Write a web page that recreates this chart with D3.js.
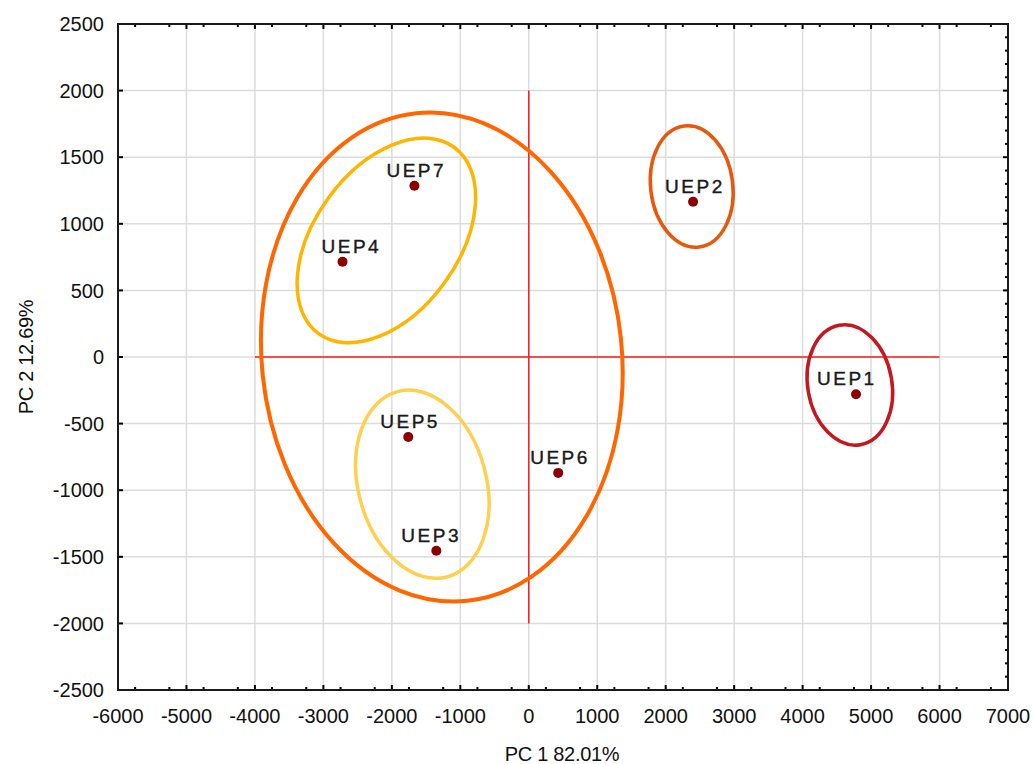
<!DOCTYPE html>
<html>
<head>
<meta charset="utf-8">
<script src="https://cdnjs.cloudflare.com/ajax/libs/d3/7.8.5/d3.min.js"></script>
<style>
body { margin: 0; background: #fff; }
svg { font-family: Arial, "Liberation Sans", sans-serif; }
</style>
</head>
<body>
<div id="chart"></div>
<script>
// sample scores
var names = ["UEP1", "UEP2", "UEP3", "UEP4", "UEP5", "UEP6", "UEP7"];
var pc1 = [4780, 2400, -1350, -2720, -1760, 430, -1670];
var pc2 = [-280, 1165, -1455, 715, -600, -870, 1285];

var xTicks = d3.range(-6000, 7001, 1000);
var yTicks = d3.range(-2500, 2501, 500);

// group ellipses (centre and radii in data units, tilt in degrees)
var groupX = [-1270, -2080, -1555, 2380, 4690];
var groupY = [0, 875, -955, 1280, -210];
var groupRx = [2630, 1050, 935, 600, 615];
var groupRy = [1840, 865, 720, 458, 455];
var groupTilt = [-6, 36, -15, -7, -10];
var groupColor = ["#ff6600", "#ffb400", "#ffcf50", "#e8580c", "#c41820"];
var groupWidth = [4, 3.5, 3.5, 3.5, 3.5];

var labelNudge = [-11, 0, -7, 7, 0, 0, 0];

var margin = { top: 24, right: 25, bottom: 74, left: 118 };
var width = 1033 - margin.left - margin.right;
var height = 764 - margin.top - margin.bottom;

var svg = d3.select("#chart")
  .append("svg")
  .attr("width", 1033)
  .attr("height", 764);

var g = svg.append("g")
  .attr("transform", "translate(" + margin.left + "," + margin.top + ")");

var x = d3.scaleLinear().domain([-6000, 7000]).range([0, width]);
var y = d3.scaleLinear().domain([-2500, 2500]).range([height, 0]);

// grid
g.append("g")
  .selectAll("line")
  .data(xTicks)
  .enter()
  .append("line")
  .attr("x1", d => x(d)).attr("x2", d => x(d))
  .attr("y1", 0).attr("y2", height)
  .attr("stroke", "#dcdcdc")
  .attr("stroke-width", 1.5);

g.append("g")
  .selectAll("line")
  .data(yTicks)
  .enter()
  .append("line")
  .attr("y1", d => y(d)).attr("y2", d => y(d))
  .attr("x1", 0).attr("x2", width)
  .attr("stroke", "#dcdcdc")
  .attr("stroke-width", 1.5);

// red cross through origin
g.append("line")
  .attr("x1", x(0)).attr("x2", x(0))
  .attr("y1", y(2000)).attr("y2", y(-2000))
  .attr("stroke", "#ff1a1a")
  .attr("stroke-width", 1.5);

g.append("line")
  .attr("x1", x(-4000)).attr("x2", x(6000))
  .attr("y1", y(0)).attr("y2", y(0))
  .attr("stroke", "#ff1a1a")
  .attr("stroke-width", 1.5);

// ellipses
var pxPerX = x(1) - x(0);
var pxPerY = y(0) - y(1);

g.append("g")
  .selectAll("ellipse")
  .data(groupX)
  .enter()
  .append("ellipse")
  .attr("cx", 0)
  .attr("cy", 0)
  .attr("rx", (d, i) => groupRx[i] * pxPerX)
  .attr("ry", (d, i) => groupRy[i] * pxPerY)
  .attr("transform", (d, i) => "translate(" + x(d) + "," + y(groupY[i]) + ") rotate(" + groupTilt[i] + ")")
  .attr("fill", "none")
  .attr("stroke", (d, i) => groupColor[i])
  .attr("stroke-width", (d, i) => groupWidth[i]);

// points
g.append("g")
  .selectAll("circle")
  .data(names)
  .enter()
  .append("circle")
  .attr("cx", (d, i) => x(pc1[i]))
  .attr("cy", (d, i) => y(pc2[i]))
  .attr("r", 5)
  .attr("fill", "#8b0000");

g.append("g")
  .selectAll("text")
  .data(names)
  .enter()
  .append("text")
  .attr("x", (d, i) => x(pc1[i]) - 28 + labelNudge[i])
  .attr("y", (d, i) => y(pc2[i]) - 9)
  .attr("font-size", 19)
  .attr("letter-spacing", 2.5)
  .attr("fill", "#1a1a1a")
  .attr("stroke", "#1a1a1a")
  .attr("stroke-width", 0.4)
  .text(d => d);

// axes (ticks pointing inward)
var minorX = [];
xTicks.slice(0, -1).forEach(function (t) { minorX.push(t + 250, t + 750); });
var minorY = d3.range(-2500, 2501, 100).filter(d => d % 500 != 0);

function tickMarks(vals, len, side) {
  var sel = g.append("g").selectAll("line").data(vals).enter().append("line")
    .attr("stroke", "#000").attr("stroke-width", 2);
  if (side == "bottom") sel.attr("x1", d => x(d)).attr("x2", d => x(d)).attr("y1", height).attr("y2", height - len);
  if (side == "top") sel.attr("x1", d => x(d)).attr("x2", d => x(d)).attr("y1", 0).attr("y2", len);
  if (side == "left") sel.attr("y1", d => y(d)).attr("y2", d => y(d)).attr("x1", 0).attr("x2", len);
  if (side == "right") sel.attr("y1", d => y(d)).attr("y2", d => y(d)).attr("x1", width).attr("x2", width - len);
}
tickMarks(xTicks, 5, "bottom");
tickMarks(xTicks, 5, "top");
tickMarks(minorX, 3, "bottom");
tickMarks(minorX, 3, "top");
tickMarks(yTicks, 5, "left");
tickMarks(yTicks, 5, "right");
tickMarks(minorY, 3, "right");

g.append("rect")
  .attr("width", width)
  .attr("height", height)
  .attr("fill", "none")
  .attr("stroke", "#1a1a1a")
  .attr("stroke-width", 2);

// tick labels
g.append("g")
  .selectAll("text")
  .data(xTicks)
  .enter()
  .append("text")
  .attr("x", d => x(d))
  .attr("y", height + 33)
  .attr("text-anchor", "middle")
  .attr("font-size", 20)
  .attr("fill", "#111")
  .text(d => d);

g.append("g")
  .selectAll("text")
  .data(yTicks)
  .enter()
  .append("text")
  .attr("x", -14)
  .attr("y", d => y(d))
  .attr("dy", "0.36em")
  .attr("text-anchor", "end")
  .attr("font-size", 20)
  .attr("fill", "#111")
  .text(d => d);

// axis titles
svg.append("text")
  .attr("x", 562)
  .attr("y", 761)
  .attr("text-anchor", "middle")
  .attr("font-size", 20)
  .attr("letter-spacing", -0.3)
  .attr("fill", "#111")
  .text("PC 1 82.01%");

svg.append("text")
  .attr("transform", "translate(33,357) rotate(-90)")
  .attr("text-anchor", "middle")
  .attr("font-size", 20)
  .attr("letter-spacing", -0.3)
  .attr("fill", "#111")
  .text("PC 2 12.69%");
</script>
</body>
</html>
